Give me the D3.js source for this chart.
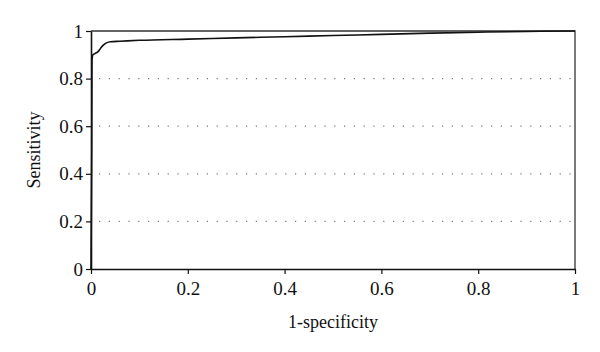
<!DOCTYPE html>
<html>
<head>
<meta charset="utf-8">
<script src="https://cdn.jsdelivr.net/npm/d3@7"></script>
<style>
  body { margin: 0; background: #fff; }
  svg text { font-family: "Liberation Serif", "DejaVu Serif", serif; fill: #111; }
</style>
</head>
<body>
<div id="chart"></div>
<script>
// ROC curve
const fpr = [0, 0.0015, 0.002, 0.004, 0.008, 0.014, 0.02, 0.026, 0.032, 0.04, 0.06, 0.1, 0.2, 0.3, 0.4, 0.5, 0.6, 0.7, 0.8, 0.9, 1]
const tpr = [0, 0.5, 0.875, 0.9, 0.905, 0.912, 0.928, 0.942, 0.95, 0.955, 0.957, 0.961, 0.966, 0.971, 0.976, 0.981, 0.986, 0.991, 0.995, 0.998, 1]
const xTicks = [0, 0.2, 0.4, 0.6, 0.8, 1]
const yTicks = [0, 0.2, 0.4, 0.6, 0.8, 1]
const gridTicks = [0.2, 0.4, 0.6, 0.8]

const width = 600
const height = 352
const margin = {top: 31, right: 25, bottom: 83, left: 91}

const svg = d3.select("#chart").append("svg")
    .attr("width", width)
    .attr("height", height)

const x = d3.scaleLinear().domain([0, 1]).range([margin.left, width - margin.right])
const y = d3.scaleLinear().domain([0, 1]).range([height - margin.bottom, margin.top])

// dotted grid lines
svg.append("g").selectAll("line")
    .data(gridTicks)
    .join("line")
    .attr("x1", x(0) + 8)
    .attr("x2", x(1))
    .attr("y1", d => y(d))
    .attr("y2", d => y(d))
    .attr("stroke", "#777")
    .attr("stroke-width", 1.2)
    .attr("stroke-dasharray", "1.2,8.6")

// top and right frame
svg.append("path")
    .attr("d", `M${x(0)},${y(1)}H${x(1)}V${y(0)}`)
    .attr("fill", "none")
    .attr("stroke", "#333")
    .attr("stroke-width", 1.3)

const xAxis = svg.append("g")
    .attr("transform", `translate(0,${y(0)})`)
    .call(d3.axisBottom(x).tickValues(xTicks).tickSize(5).tickSizeOuter(0).tickFormat(d3.format("~g")))
const yAxis = svg.append("g")
    .attr("transform", `translate(${x(0)},0)`)
    .call(d3.axisLeft(y).tickValues(yTicks).tickSize(5).tickSizeOuter(0).tickFormat(d3.format("~g")))

for (const ax of [xAxis, yAxis]) {
    ax.attr("font-size", null).attr("font-family", null)
    ax.select(".domain").attr("stroke", "#111").attr("stroke-width", 1.6)
    ax.selectAll(".tick line").attr("stroke", "#111").attr("stroke-width", 1.2)
    ax.selectAll(".tick text").style("font-size", "19px").attr("fill", "#111")
}
xAxis.selectAll(".tick text").attr("dy", "0.95em")
yAxis.selectAll(".tick text").attr("x", -8)

// curve
const line = d3.line()
    .x((d, i) => x(fpr[i]))
    .y(d => y(d))
    .curve(d3.curveMonotoneX)

svg.append("path")
    .datum(tpr)
    .attr("d", line)
    .attr("fill", "none")
    .attr("stroke", "#111")
    .attr("stroke-width", 1.6)

// axis titles
svg.append("text")
    .attr("x", (x(0) + x(1)) / 2)
    .attr("y", 328)
    .attr("text-anchor", "middle")
    .style("font-size", "18px")
    .text("1-specificity")

svg.append("text")
    .attr("transform", `translate(40,${(y(0) + y(1)) / 2}) rotate(-90)`)
    .attr("text-anchor", "middle")
    .style("font-size", "18px")
    .text("Sensitivity")
</script>
</body>
</html>
